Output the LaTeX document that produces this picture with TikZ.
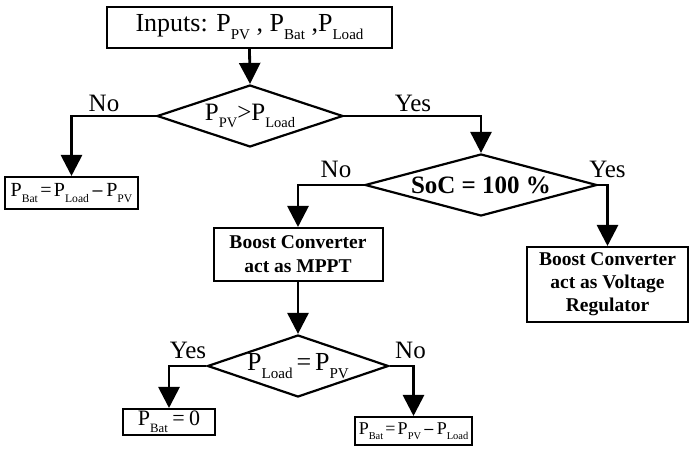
\documentclass[tikz,border=0pt]{standalone}
\usepackage{fontspec}
\usepackage{graphicx}
\setmainfont{Liberation Serif}
\usetikzlibrary{arrows.meta,shapes.geometric}
\newcommand\sbs[1]{\raisebox{-0.3em}{\scalebox{0.58}{#1}}}
\newcommand\mns{{\fontspec{DejaVu Serif}\scalebox{0.8}{−}}}
\tikzset{
  box/.style={draw, line width=2pt, rectangle, inner sep=0pt, align=center},
  dia/.style={draw, line width=2.2pt, diamond, inner sep=0pt},
  arr/.style={line width=2.8pt, -{Triangle[width=21pt,length=21pt]}},
  lbl/.style={anchor=base, inner sep=0pt, font=\fontsize{25}{27}\selectfont},
}
\begin{document}
\begin{tikzpicture}[x=1pt,y=-1pt]
\useasboundingbox (0,0) rectangle (689,449);
\node[box, minimum width=285pt, minimum height=41pt, font=\fontsize{26}{28}\selectfont] (top) at (249.5,27.5) {Inputs: P\sbs{PV} , P\sbs{Bat} ,P\sbs{Load}};
\node[dia, minimum width=186pt, minimum height=62pt, label={[font=\fontsize{25}{27}\selectfont]center:{P\sbs{PV} \hspace{-0.25em}>P\sbs{Load}}}] (d1) at (250,116) {};
\node[box, minimum width=133pt, minimum height=32pt, font=\fontsize{20}{22}\selectfont] (lb) at (71.5,193) {P\sbs{Bat}\hspace{0.12em}=\hspace{0.12em}P\sbs{Load}\hspace{0.1em}\mns\hspace{0.1em}P\sbs{PV}};
\node[dia, minimum width=232pt, minimum height=62pt, label={[font=\fontsize{25}{27}\selectfont\bfseries]center:{SoC = 100 \%}}] (d2) at (481,185) {};
\node[box, minimum width=169pt, minimum height=53pt, font=\fontsize{19.5}{24}\selectfont\bfseries] (mppt) at (298,254.5) {Boost Converter\\act as MPPT};
\node[box, minimum width=161pt, minimum height=75pt, font=\fontsize{19.5}{23}\selectfont\bfseries] (vr) at (607.5,284.5) {Boost Converter\\act as Voltage\\Regulator};
\node[dia, minimum width=181pt, minimum height=62pt, label={[font=\fontsize{26}{28}\selectfont]center:{P\sbs{Load}\hspace{0.15em}=\hspace{0.15em}P\sbs{PV}}}] (d3) at (298,366) {};
\node[box, minimum width=92pt, minimum height=26pt, font=\fontsize{22}{24}\selectfont] (b0) at (169,422) {P\sbs{Bat}\hspace{0.2em}=\hspace{0.2em}0};
\node[box, minimum width=117pt, minimum height=28pt, font=\fontsize{18}{20}\selectfont] (b1) at (413.5,431) {P\sbs{Bat}\hspace{0.12em}=\hspace{0.12em}P\sbs{PV}\hspace{0.1em}\mns\hspace{0.1em}P\sbs{Load}};
\draw[arr] (top.south) -- (d1.north);
\draw[arr] (d1.west) -| (lb.north);
\draw[arr] (d1.east) -| (d2.north);
\draw[arr] (d2.west) -| (mppt.north);
\draw[arr] (d2.east) -| (vr.north);
\draw[arr] (mppt.south) -- (d3.north);
\draw[arr] (d3.west) -| (b0.north);
\draw[arr] (d3.east) -| (b1.north);
\node[lbl] (n1) at (104,112) {No};
\node[lbl] (y1) at (413,112) {Yes};
\node[lbl] (n2) at (336,178) {No};
\node[lbl] (y2) at (607.5,178) {Yes};
\node[lbl] (y3) at (188,359) {Yes};
\node[lbl] (n3) at (410.5,359) {No};
\end{tikzpicture}
\end{document}
